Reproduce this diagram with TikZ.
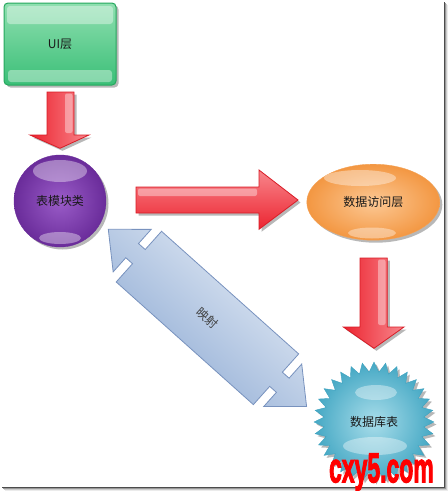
\documentclass[tikz,border=0pt]{standalone}
\usepackage{fontspec}
\setmainfont{Noto Sans CJK SC}
\newfontfamily\wmfont{Liberation Sans Bold}[FakeBold=3]
\usetikzlibrary{shapes.geometric,shadows}
\definecolor{uiTop}{HTML}{8FDFB0}
\definecolor{uiMid}{HTML}{3CC47A}
\definecolor{uiBot}{HTML}{3ABF77}
\definecolor{uiEdge}{HTML}{25A85E}
\definecolor{puIn}{HTML}{9A5CC8}
\definecolor{puOut}{HTML}{6A2C9A}
\definecolor{orIn}{HTML}{FCC894}
\definecolor{orOut}{HTML}{F39742}
\definecolor{orEdge}{HTML}{F4A256}
\definecolor{tlIn}{HTML}{A8DDEA}
\definecolor{tlOut}{HTML}{45A8C4}
\definecolor{tlEdge}{HTML}{3EA2BF}
\definecolor{rdDark}{HTML}{EC2430}
\definecolor{rdLight}{HTML}{F8868C}
\definecolor{rdEdge}{HTML}{D81C26}
\definecolor{blLight}{HTML}{E6EDF6}
\definecolor{blDark}{HTML}{8CA9D3}
\definecolor{blEdge}{HTML}{7892BE}
\begin{document}
\begin{tikzpicture}[x=1pt,y=-1pt,
  lbl/.style={font=\fontsize{12}{14}\selectfont, text=black!90},
  softshadow/.style={drop shadow={shadow xshift=2.5pt, shadow yshift=-2.5pt, opacity=0.28, fill=black}},
  gloss/.style={fill=white, fill opacity=0.38, draw=none},
  uibox/.style={rectangle, rounded corners=4pt, minimum width=112pt, minimum height=82pt,
    top color=uiTop, middle color=uiMid, bottom color=uiBot, draw=uiEdge, line width=1pt, softshadow, lbl},
  ballnode/.style={circle, minimum size=92pt, inner sep=0pt, inner color=puIn, outer color=puOut,
    draw=puOut, softshadow, lbl},
  ovalnode/.style={ellipse, minimum width=133pt, minimum height=76pt, inner sep=0pt,
    inner color=orIn, outer color=orOut, draw=orEdge, softshadow, lbl},
  starnode/.style={star, star points=32, star point ratio=1.2, minimum size=120pt, inner sep=0pt,
    inner color=tlIn, outer color=tlOut, draw=tlEdge, softshadow, lbl},
  redv/.style={left color=rdDark, right color=rdLight, draw=rdEdge, line width=0.8pt, softshadow},
  redh/.style={top color=rdLight, bottom color=rdDark, draw=rdEdge, line width=0.8pt, softshadow},
  bluearrow/.style={shading=axis, top color=blLight, bottom color=blDark, shading angle=-41.8,
    draw=blEdge, line width=0.8pt}
]
\useasboundingbox (0,0) rectangle (448,491);

% frame shadow
\draw[line width=1pt, black!70] (444.5,2) -- (444.5,487.5) -- (2,487.5);
\draw[line width=1pt, black!40] (445.5,3) -- (445.5,488.5) -- (3,488.5);
\draw[line width=1pt, black!20] (446.5,4) -- (446.5,489.5) -- (4,489.5);
\draw[line width=1pt, black!8] (447.5,5) -- (447.5,490.5) -- (5,490.5);

% nodes
\node[uibox] (ui) at (60,44) {UI层};
\fill[gloss, rounded corners=3pt] (7,6) rectangle (113,24);
\fill[gloss, rounded corners=3pt] (8,70) rectangle (112,82);

\node[ballnode] (cls) at (60,201) {};
\fill[gloss] (60,171) ellipse (27pt and 11pt);
\fill[gloss] (60,238) ellipse (21pt and 6pt);
\node[lbl] at (cls.center) {表模块类};

\node[ovalnode] (dal) at (373.3,202.2) {};
\fill[gloss] (360,178) ellipse (36pt and 8pt);
\fill[gloss] (372,233) ellipse (24pt and 5.5pt);
\node[lbl] at (dal.center) {数据访问层};

\node[starnode] (db) at (374,422) {};
\fill[gloss] (376,392.5) ellipse (21pt and 7.5pt);
\fill[gloss] (375,446) ellipse (32pt and 9pt);
\node[lbl] at (db.center) {数据库表};

% red arrows
\draw[redv] (47,92) -- (74,92) -- (74,135) -- (89,135) -- (60,148.3) -- (30,135) -- (47,135) -- cycle;
\fill[gloss, rounded corners=2pt] (65,93.5) rectangle (72.5,133);
\draw[redh] (136,187) -- (259,187) -- (259,170) -- (298,200) -- (259,229.3) -- (259,213) -- (136,213) -- cycle;
\fill[gloss, rounded corners=2pt] (138,188.5) rectangle (257,196);
\draw[redv] (360,258) -- (387.3,258) -- (387.3,327) -- (404,327) -- (374,348.3) -- (343.3,327) -- (360,327) -- cycle;
\fill[gloss, rounded corners=2pt] (378,259.5) rectangle (385.5,325);

% blue double arrow (mapping)
\begin{scope}[shift={(108.3,229.3)}, rotate=-41.8]
\draw[bluearrow] (0,0) -- (32,-28.5) -- (32,-9.5) -- (41,-9.5) -- (41,-34) -- (225,-34)
  -- (225,-9.5) -- (234,-9.5) -- (234,-28.5) -- (266,0) -- (234,28.5) -- (234,9.5)
  -- (225,9.5) -- (225,34) -- (41,34) -- (41,9.5) -- (32,9.5) -- (32,28.5) -- cycle;
\node[lbl, rotate=-41.8, text=black!75, inner sep=0pt] (map) at (133,0) {映射};
\end{scope}

% watermark
\node[anchor=base west, inner sep=0pt, xscale=0.56, yscale=1.02, text=red,
  font=\wmfont\fontsize{41}{41}\selectfont] (wm) at (329,482.3) {cxy5.com};
\end{tikzpicture}
\end{document}
